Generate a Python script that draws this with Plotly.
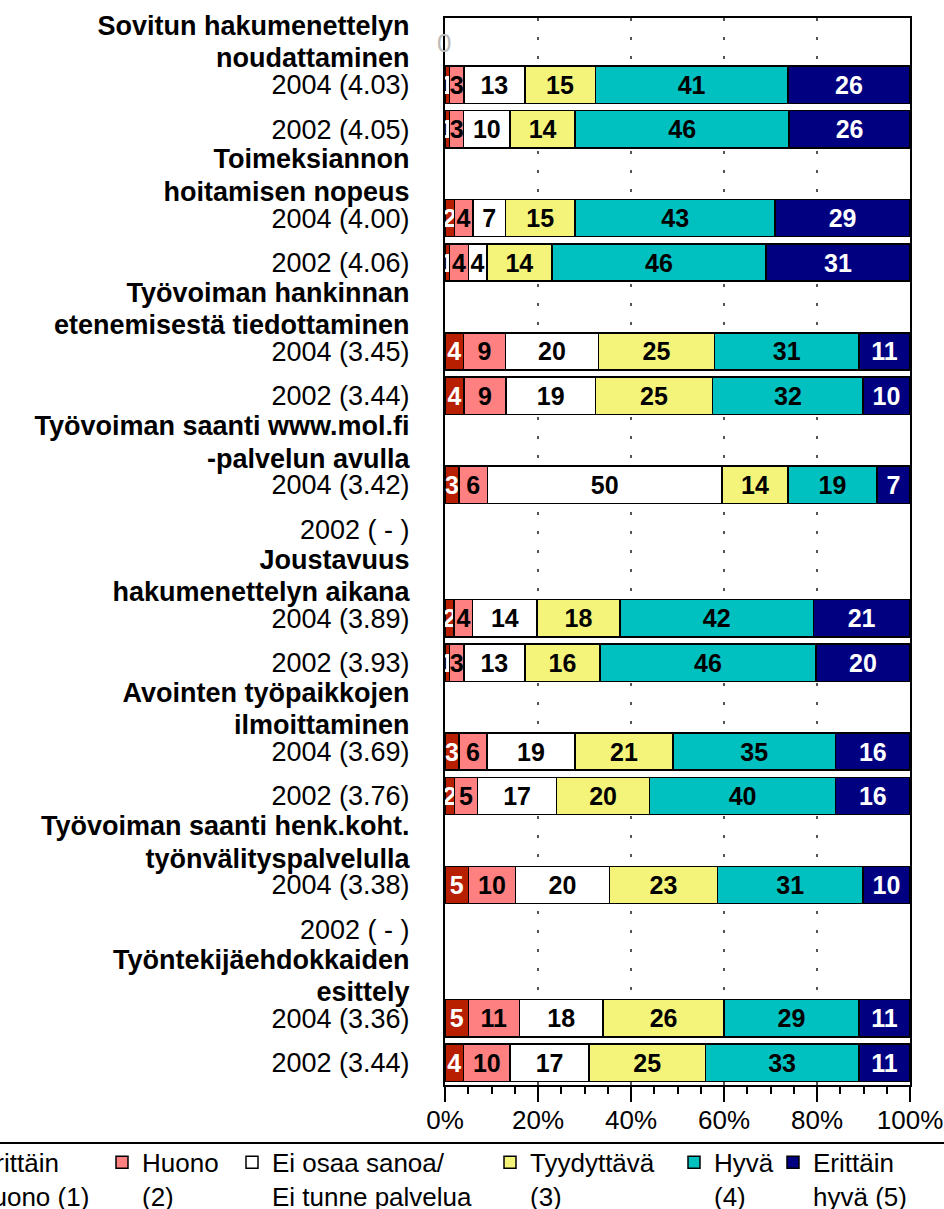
import plotly.graph_objects as go

# question titles (two lines each) and row labels
titles = [
    ("Sovitun hakumenettelyn", "noudattaminen"),
    ("Toimeksiannon", "hoitamisen nopeus"),
    ("Työvoiman hankinnan", "etenemisestä tiedottaminen"),
    ("Työvoiman saanti www.mol.fi", "-palvelun avulla"),
    ("Joustavuus", "hakumenettelyn aikana"),
    ("Avointen työpaikkojen", "ilmoittaminen"),
    ("Työvoiman saanti henk.koht.", "työnvälityspalvelulla"),
    ("Työntekijäehdokkaiden", "esittely"),
]
row_labels = [
    "2004 (4.03)", "2002 (4.05)",
    "2004 (4.00)", "2002 (4.06)",
    "2004 (3.45)", "2002 (3.44)",
    "2004 (3.42)", "2002 ( - )",
    "2004 (3.89)", "2002 (3.93)",
    "2004 (3.69)", "2002 (3.76)",
    "2004 (3.38)", "2002 ( - )",
    "2004 (3.36)", "2002 (3.44)",
]

# shares (%) per answer, in the same order as row_labels
erittain_huono = [1, 1, 2, 1, 4, 4, 3, None, 2, 1, 3, 2, 5, None, 5, 4]
huono = [3, 3, 4, 4, 9, 9, 6, None, 4, 3, 6, 5, 10, None, 11, 10]
ei_osaa = [13, 10, 7, 4, 20, 19, 50, None, 14, 13, 19, 17, 20, None, 18, 17]
tyydyttava = [15, 14, 15, 14, 25, 25, 14, None, 18, 16, 21, 20, 23, None, 26, 25]
hyva = [41, 46, 43, 46, 31, 32, 19, None, 42, 46, 35, 40, 31, None, 29, 33]
erittain_hyva = [26, 26, 29, 31, 11, 10, 7, None, 21, 20, 16, 16, 10, None, 11, 11]

x_ticks = [0, 20, 40, 60, 80, 100]

series = [
    ("Erittäin<br>huono (1)", erittain_huono, '#B81E00', 'white'),
    ("Huono<br>(2)", huono, '#FF8080', 'black'),
    ("Ei osaa sanoa/<br>Ei tunne palvelua", ei_osaa, '#FFFFFF', 'black'),
    ("Tyydyttävä<br>(3)", tyydyttava, '#F4F47A', 'black'),
    ("Hyvä<br>(4)", hyva, '#00C0C0', 'black'),
    ("Erittäin<br>hyvä (5)", erittain_hyva, '#000080', 'white'),
]

# each question takes three slots: title, 2004, 2002
y_pos = []
tickvals = []
ticktext = []
for g, (line1, line2) in enumerate(titles):
    base = 3 * g
    tickvals += [base - 0.33, base + 0.40, base + 1, base + 2]
    ticktext += ['<b>' + line1 + '</b>', '<b>' + line2 + '</b>',
                 row_labels[2 * g], row_labels[2 * g + 1]]
    y_pos += [base + 1, base + 2]

font_family = 'Liberation Sans, Arial, sans-serif'

# plot area sits at x 445..910, y 18..1085 on screen (page margin removed below)
body = 0
plot_l, plot_w = 445, 465
plot_t, plot_b = 18, 1085
W, H = 944, 1209

# legend text start positions on screen (one legend per item)
legend_text_px = [-22, 142, 272, 530, 714, 813]

fig = go.Figure()
for i, (name, vals, color, tcolor) in enumerate(series):
    legend_id = 'legend' if i == 0 else 'legend' + str(i + 1)
    fig.add_trace(go.Bar(
        x=vals,
        y=y_pos,
        orientation='h',
        name=name,
        text=[('' if v is None else str(v)) for v in vals],
        textposition='inside',
        insidetextanchor='middle',
        textangle=0,
        textfont=dict(family=font_family, size=25, color=tcolor, weight='bold'),
        marker=dict(color=color, line=dict(color='black', width=1.5)),
        legend=legend_id,
        showlegend=True,
        hoverinfo='skip',
    ))

layout_legends = {}
for i, px in enumerate(legend_text_px):
    legend_id = 'legend' if i == 0 else 'legend' + str(i + 1)
    layout_legends[legend_id] = dict(
        x=(px - 40 - plot_l) / plot_w,
        y=-0.0505,
        xanchor='left',
        yanchor='top',
        orientation='h',
        valign='top',
        bgcolor='rgba(0,0,0,0)',
        font=dict(family=font_family, size=26, color='black'),
    )

fig.update_layout(
    showlegend=True,
    barmode='stack',
    barnorm='percent',
    bargap=0.16,
    width=W,
    height=H,
    margin=dict(l=plot_l - body, r=W + body - plot_l - plot_w,
                t=plot_t - body, b=H + body - plot_b, autoexpand=False),
    paper_bgcolor='white',
    plot_bgcolor='white',
    font=dict(family=font_family, color='black'),
    uniformtext=dict(minsize=25, mode='show'),
    **layout_legends,
)

fig.update_xaxes(
    range=[0, 100],
    tickvals=x_ticks,
    ticktext=[str(t) + '%' for t in x_ticks],
    ticks='outside',
    ticklen=15,
    tickwidth=1.5,
    tickcolor='black',
    tickfont=dict(size=26),
    ticklabelstandoff=-4,
    minor=dict(dtick=5, ticks='outside', ticklen=7, tickwidth=1.5, tickcolor='black', showgrid=False),
    showgrid=True,
    gridcolor='#555555',
    gridwidth=1.5,
    griddash='3px,16px',
    showline=True,
    linecolor='black',
    linewidth=2,
    mirror=True,
    zeroline=False,
)
fig.update_yaxes(
    range=[23.5, -0.5],
    tickvals=tickvals,
    ticktext=ticktext,
    ticks='',
    tickfont=dict(size=27),
    ticklabelstandoff=28,
    showgrid=False,
    showline=True,
    linecolor='black',
    linewidth=2,
    mirror=True,
    zeroline=False,
)

# rule above the legend
fig.add_shape(type='line', xref='paper', yref='paper',
              x0=-1.2, x1=1.2, y0=-0.0544, y1=-0.0544,
              line=dict(color='black', width=2))

# faint stray glyph near the top-left corner of the plot
fig.add_annotation(text='0', xref='paper', yref='paper', x=-0.002, y=0.977,
                   xanchor='center', yanchor='middle',
                   showarrow=False, font=dict(size=26, color='#BBBBBB'))

# drop the default page margin so the figure starts at the window corner
fig.write_html("out.html", config={'displayModeBar': False},
               post_script="document.body.style.margin='0';")
